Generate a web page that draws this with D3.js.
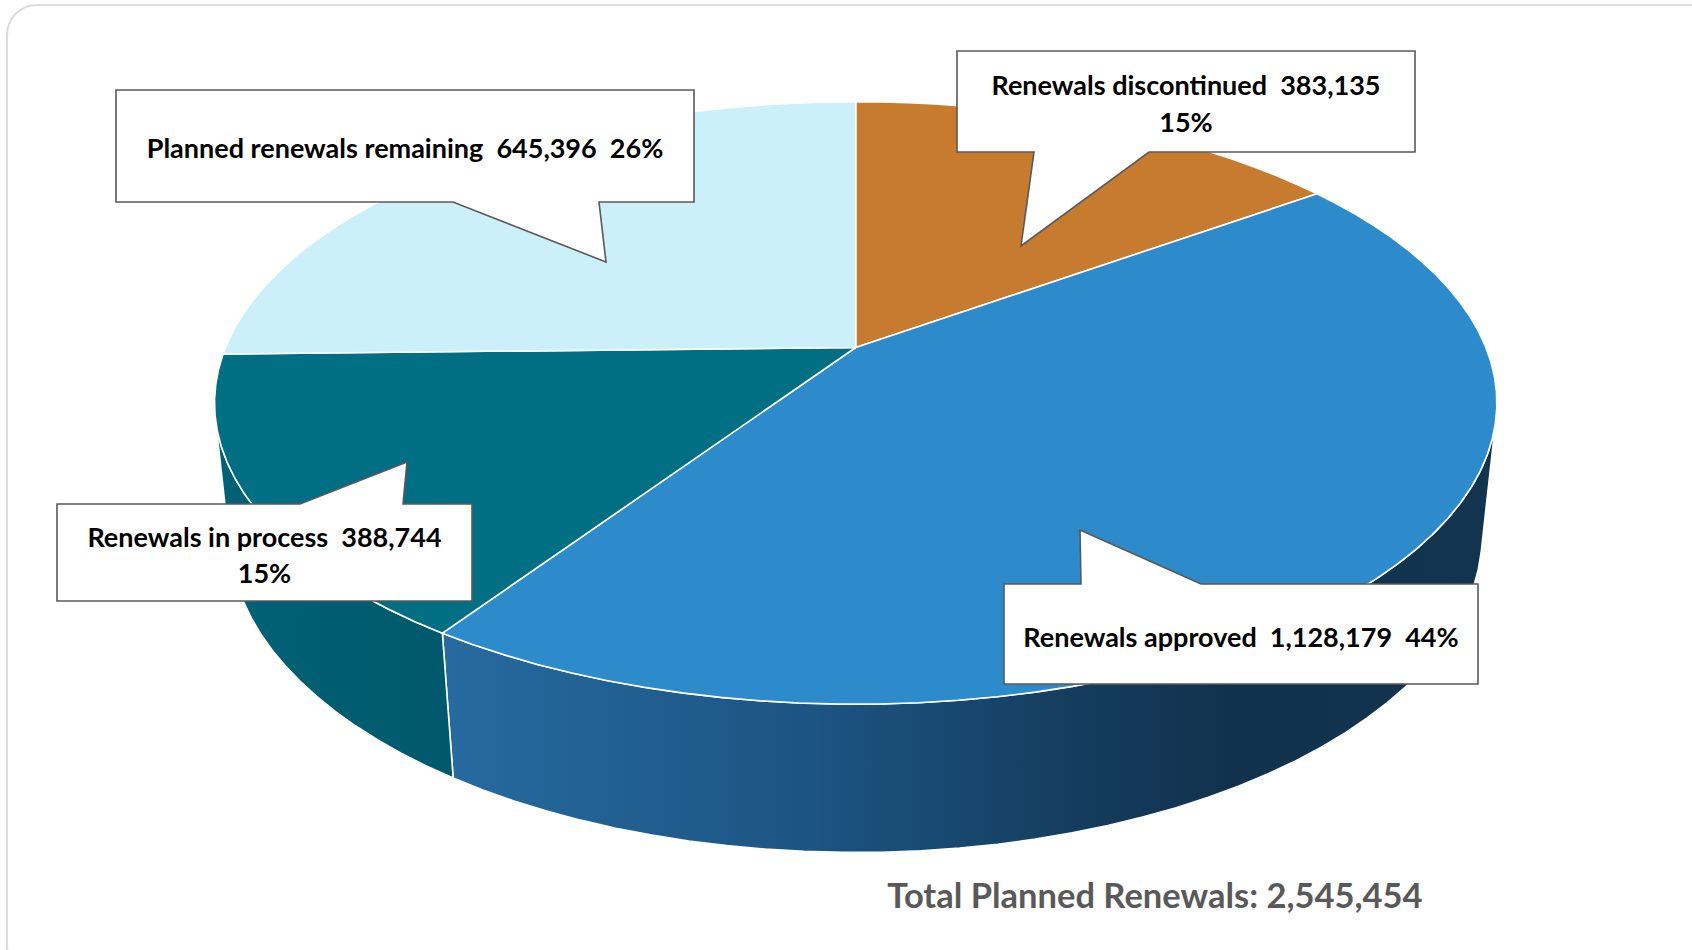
<!DOCTYPE html>
<html>
<head>
<meta charset="utf-8">
<script src="https://cdn.jsdelivr.net/npm/d3@7"></script>
<style>
  html, body { margin: 0; padding: 0; background: #ffffff; }
  svg { display: block; }
</style>
</head>
<body>
<svg id="chart" width="1692" height="950"></svg>
<script>
// ---- data ----
const categories = ["Renewals discontinued", "Renewals approved", "Renewals in process", "Planned renewals remaining"];
const values = [383135, 1128179, 388744, 645396];
const percentLabels = ["15%", "44%", "15%", "26%"];
const totalTitle = "Total Planned Renewals";

// ---- styles ----
const topColors  = ["#C77B2E", "#2E8BCB", "#006F83", "#CCF0F9"];
const wallColors = ["#9A5E22", "url(#wallApproved)", "url(#wallInProcess)", "#9FCFDB"];

const svg = d3.select("#chart");
const fmt = d3.format(",");

// rounded panel frame
svg.append("rect")
  .attr("x", 7).attr("y", 5).attr("width", 1720).attr("height", 970)
  .attr("rx", 30).attr("ry", 30)
  .attr("fill", "#ffffff").attr("stroke", "#dcdcdc").attr("stroke-width", 2);

// gradients for the side walls
const defs = svg.append("defs");
const g1 = defs.append("linearGradient").attr("id", "wallApproved")
  .attr("gradientUnits", "userSpaceOnUse").attr("x1", 450).attr("y1", 0).attr("x2", 1500).attr("y2", 0);
[[0, "#266A9F"], [0.35, "#1C5482"], [0.62, "#143A5B"], [0.75, "#11324D"], [1, "#12344F"]]
  .forEach(([o, c]) => g1.append("stop").attr("offset", o).attr("stop-color", c));
const g2 = defs.append("linearGradient").attr("id", "wallInProcess")
  .attr("gradientUnits", "userSpaceOnUse").attr("x1", 210).attr("y1", 0).attr("x2", 460).attr("y2", 0);
[[0, "#006276"], [1, "#00586B"]]
  .forEach(([o, c]) => g2.append("stop").attr("offset", o).attr("stop-color", c));

// ---- perspective projection of a tilted disc (radius 1) ----
const cx = 855.7, cy = 347.5;          // screen position of the pie centre
const tilt = 27.5 * Math.PI / 180;      // camera elevation
const camDist = 4.819;                   // camera distance in radii
const focal = 3037;                      // focal length in px
const depth = 0.237;                     // slab thickness in radii

function project(theta, z, r = 1) {
  const X = r * Math.sin(theta), Y = r * Math.cos(theta);
  const w = camDist + Y * Math.cos(tilt) - z * Math.sin(tilt);
  const u = Y * Math.sin(tilt) + z * Math.cos(tilt);
  return [cx + focal * X / w, cy - focal * u / w];
}

const pie = d3.pie().sort(null).startAngle(0).endAngle(2 * Math.PI);
const arcs = pie(values);

// outer wall faces the camera where cos(theta) < -1/(camDist*cos(tilt))
const visA = Math.acos(-1 / (camDist * Math.cos(tilt)));
const visB = 2 * Math.PI - visA;

const line = d3.line();
const steps = n => Math.max(8, Math.ceil(n * 120));

function arcPoints(a0, a1, z) {
  const n = steps((a1 - a0) / (2 * Math.PI));
  return d3.range(n + 1).map(i => project(a0 + (a1 - a0) * i / n, z));
}

// side walls
const wallG = svg.append("g");
arcs.forEach((d, i) => {
  const t0 = Math.max(d.startAngle, visA), t1 = Math.min(d.endAngle, visB);
  if (t0 >= t1) return;
  const pts = arcPoints(t0, t1, 0).concat(arcPoints(t0, t1, -depth).reverse());
  wallG.append("path")
    .attr("d", line(pts) + "Z")
    .attr("fill", wallColors[i])
    .attr("stroke", "#ffffff").attr("stroke-width", 1.6).attr("stroke-linejoin", "round");
});

// top faces
const topG = svg.append("g");
arcs.forEach((d, i) => {
  const pts = [project(0, 0, 0)].concat(arcPoints(d.startAngle, d.endAngle, 0));
  topG.append("path")
    .attr("d", line(pts) + "Z")
    .attr("fill", topColors[i])
    .attr("stroke", "#ffffff").attr("stroke-width", 1.6).attr("stroke-linejoin", "round");
});

// ---- callouts ----
// box: [x, y, w, h]; pointer: base x-range on the given edge, tip point
const callouts = [
  { box: [957, 51, 458, 101], edge: "bottom", base: [1034, 1149], tip: [1021, 246], lines: 2, lineY: [84, 121] },
  { box: [1004, 584, 474, 100], edge: "top", base: [1081, 1201], tip: [1080, 530], lines: 1, lineY: [636] },
  { box: [57, 504, 415, 97], edge: "top", base: [300, 403], tip: [407, 462], lines: 2, lineY: [536, 572] },
  { box: [116, 90, 578, 112], edge: "bottom", base: [453, 599], tip: [606, 262], lines: 1, lineY: [147] }
];

const labelG = svg.append("g");
callouts.forEach((c, i) => {
  const [x, y, w, h] = c.box;
  let pts;
  if (c.edge === "top") {
    pts = [[x, y], [c.base[0], y], c.tip, [c.base[1], y], [x + w, y], [x + w, y + h], [x, y + h]];
  } else {
    pts = [[x, y], [x + w, y], [x + w, y + h], [c.base[1], y + h], c.tip, [c.base[0], y + h], [x, y + h]];
  }
  labelG.append("path")
    .attr("d", line(pts) + "Z")
    .attr("fill", "#ffffff").attr("stroke", "#595959").attr("stroke-width", 1.6);

  const name = categories[i], val = fmt(values[i]), pct = percentLabels[i];
  const texts = c.lines === 2
    ? [`${name}\u00a0\u00a0${val}`, pct]
    : [`${name}\u00a0\u00a0${val}\u00a0\u00a0${pct}`];
  texts.forEach((t, k) => {
    labelG.append("text")
      .attr("x", x + w / 2).attr("y", c.lineY[k])
      .attr("text-anchor", "middle").attr("dominant-baseline", "central")
      .attr("font-family", "Lato, 'Open Sans', sans-serif")
      .attr("font-weight", 700).attr("font-size", 27)
      .attr("fill", "#000000")
      .text(t);
  });
});

// total
svg.append("text")
  .attr("x", 1155).attr("y", 894)
  .attr("text-anchor", "middle").attr("dominant-baseline", "central")
  .attr("font-family", "Lato, 'Open Sans', sans-serif")
  .attr("font-weight", 700).attr("font-size", 34.5)
  .attr("fill", "#595959")
  .text(`${totalTitle}: ${fmt(d3.sum(values))}`);
</script>
</body>
</html>
